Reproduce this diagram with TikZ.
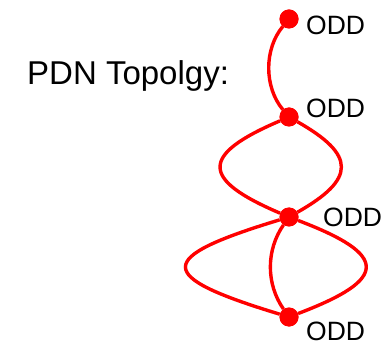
\documentclass[tikz,border=0pt]{standalone}
\usepackage{fontspec}
\setmainfont{Liberation Sans}
\usepackage{tikz}

\begin{document}
\begin{tikzpicture}[
  x=1pt, y=-1pt,
  vtx/.style={circle, fill=red, inner sep=0pt, minimum size=19pt},
  wire/.style={draw=red, line width=3.4pt},
  lbl/.style={font=\fontsize{26.5}{31}\selectfont, anchor=base west, inner sep=0pt},
  title/.style={font=\fontsize{33}{39}\selectfont, anchor=base west, inner sep=0pt}
]
  \useasboundingbox (0,0) rectangle (382,344);

  % Titolo
\node[title] (tit) at (27,85) {PDN Topolgy:};

  % Vertici
\node[vtx] (n1) at (289,19) {};
\node[vtx] (n2) at (289,117) {};
\node[vtx] (n3) at (289,217) {};
\node[vtx] (n4) at (289,317) {};

  % Archi
  \draw[wire] (n1) .. controls +(-25,30) and +(-25,-30) .. (n2);
  \draw[wire] (n2) .. controls +(-89,38) and +(-89,-38) .. (n3);
  \draw[wire] (n2) .. controls +(67,38) and +(67,-38) .. (n3);
  \draw[wire] (n3) .. controls +(-135,41) and +(-135,-41) .. (n4);
  \draw[wire] (n3) .. controls +(-23,33) and +(-23,-33) .. (n4);
  \draw[wire] (n3) .. controls +(100,38) and +(100,-38) .. (n4);

  % Vertici sopra gli archi
\node[vtx] at (n1) {};
\node[vtx] at (n2) {};
\node[vtx] at (n3) {};
\node[vtx] at (n4) {};

  % Etichette
\node[lbl] (l1) at (306,35) {ODD};
\node[lbl] (l2) at (306,118) {ODD};
\node[lbl] (l3) at (323,227) {ODD};
\node[lbl] (l4) at (306,340) {ODD};

\end{tikzpicture}
\end{document}
